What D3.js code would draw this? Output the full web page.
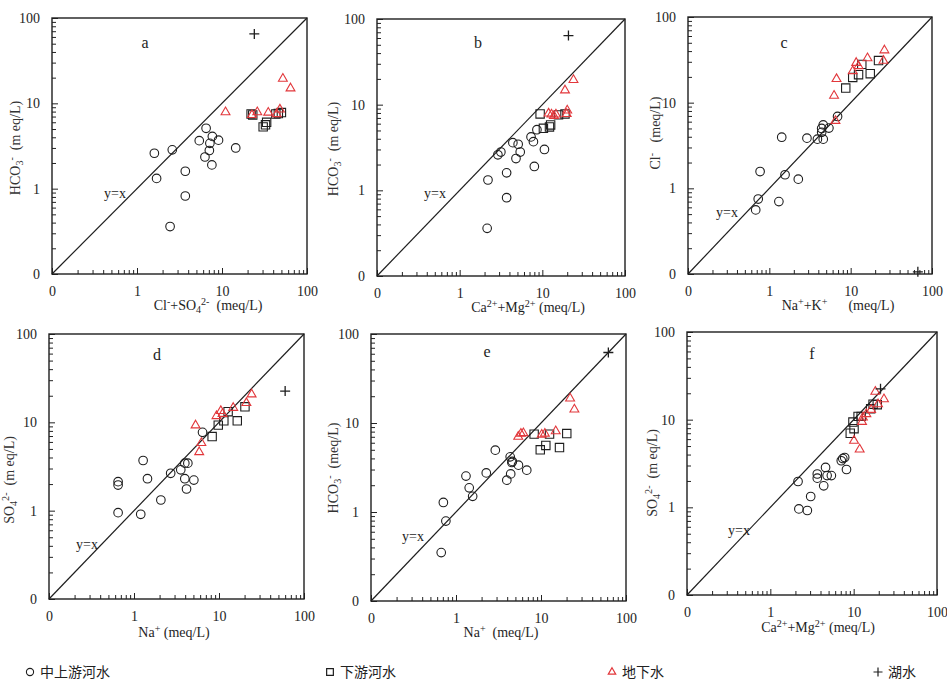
<!DOCTYPE html>
<meta charset="utf-8">
<style>
    body {
        margin: 0;
        background: #fff;
    }

    svg {
        font-family: "Liberation Serif", "Times New Roman", serif;
    }

    .axis path {
        display: none;
    }

    .axis line {
        stroke: #222;
        stroke-width: 1;
    }

    .legend text {
        font-family: "Noto Sans CJK SC", sans-serif;
        font-size: 14px;
        fill: #222;
    }
</style>
<body>
<script src="https://cdn.jsdelivr.net/npm/d3@7"></script>
<script>

    // log axes run 0.1 .. 100 but the 0.1 position is labelled "0"
    const tickValues = [0.1, 1, 10, 100];
    const tickLabels = ["0", "1", "10", "100"];

    const legendNames = ["中上游河水", "下游河水", "地下水", "湖水"];

    // a : HCO3- vs Cl- + SO4 2-
    const aCircle = [[1.6, 2.6], [1.7, 1.32], [2.6, 2.85], [2.45, 0.36], [3.7, 1.6], [3.7, 0.82], [5.4, 3.65], [6.5, 5.1],
        [7.7, 4.1], [7.2, 3.4], [9.1, 3.7], [7.1, 2.8], [6.3, 2.35], [7.6, 1.9], [14.5, 3.0]];
    const aSquare = [[22, 7.5], [23, 7.3], [30.5, 5.3], [32.5, 5.6], [33.5, 6.0], [43, 7.5], [46, 7.6], [50, 7.8]];
    const aTriangle = [[11, 8.1], [22.5, 7.5], [26, 8.1], [35, 8.0], [44, 7.7], [48, 8.7], [52, 20], [64, 15.4]];
    const aPlus = [[24, 65]];

    // b : HCO3- vs Ca2+ + Mg2+
    const bCircle = [[2.2, 1.32], [2.15, 0.36], [2.9, 2.6], [3.15, 2.8], [3.7, 1.6], [3.7, 0.82], [4.4, 3.6], [4.8, 2.35],
        [5.1, 3.45], [5.4, 2.8], [7.3, 4.2], [7.8, 3.7], [8.6, 5.1], [8.0, 1.9], [10.6, 3.0]];
    const bSquare = [[9.4, 7.8], [10.3, 5.3], [12.2, 5.5], [12.6, 5.8], [15.7, 7.6], [18.8, 7.8]];
    const bTriangle = [[11.9, 8.1], [12.9, 7.9], [13.8, 7.6], [14.6, 7.9], [19.7, 8.0], [20, 8.8], [18.8, 15.1], [23.8, 20]];
    const bPlus = [[20.7, 64]];

    // c : Cl- vs Na+ + K+
    const cCircle = [[0.68, 0.56], [0.73, 0.75], [0.77, 1.57], [1.31, 0.70], [1.42, 3.95], [1.56, 1.44], [2.27, 1.28], [2.9, 3.85],
        [3.9, 3.75], [4.4, 4.5], [4.4, 5.0], [4.6, 3.75], [4.6, 5.5], [5.4, 5.05], [6.9, 6.9]];
    const cSquare = [[8.7, 14.8], [10.6, 19.7], [12.5, 21.2], [13.7, 28], [17.4, 21.8], [22, 31]];
    const cTriangle = [[6.25, 12.4], [6.7, 19.4], [6.5, 6.3], [10.6, 24], [11.7, 30], [12.5, 27.5], [16.1, 34], [25.3, 31.7], [26, 42]];
    const cPlus = [[67, 0.106]];

    // d : SO4 2- vs Na+
    const dCircle = [[0.65, 2.13], [0.65, 1.95], [0.65, 0.95], [1.2, 0.91], [1.28, 3.7], [1.44, 2.3], [2.07, 1.32], [2.7, 2.65],
        [3.55, 2.9], [3.96, 3.45], [4.3, 3.45], [3.96, 2.3], [4.15, 1.76], [5.06, 2.22], [6.4, 7.7]];
    const dSquare = [[8.3, 6.9], [9.8, 9.3], [11.4, 10.4], [12.8, 13.2], [16.4, 10.4], [20.2, 15]];
    const dTriangle = [[5.3, 9.5], [5.85, 4.73], [6.2, 6.0], [9.35, 12.1], [10.5, 13.8], [11, 12.8], [14.7, 15], [21, 17], [24.2, 21.3]];
    const dPlus = [[60, 22.6]];

    // e : HCO3- vs Na+
    const eCircle = [[0.67, 0.35], [0.71, 1.28], [0.76, 0.79], [1.31, 2.53], [1.43, 1.87], [1.57, 1.5], [2.27, 2.75], [2.9, 4.95],
        [3.96, 2.28], [4.34, 4.17], [4.4, 2.68], [4.54, 3.6], [4.6, 3.7], [5.43, 3.36], [6.8, 2.95]];
    const eSquare = [[8.3, 7.5], [9.8, 5.0], [11.4, 5.6], [12.6, 7.5], [16.5, 5.3], [20.1, 7.6]];
    const eTriangle = [[5.4, 7.2], [5.8, 7.8], [6.2, 7.9], [10.2, 7.6], [11.1, 7.8], [14.9, 8.3], [22, 19.4], [24.7, 14.6]];
    const ePlus = [[62, 62]];

    // f : SO4 2- vs Ca2+ + Mg2+
    const fCircle = [[2.15, 1.97], [2.2, 0.96], [2.78, 0.92], [3.05, 1.33], [3.66, 2.4], [3.66, 2.15], [4.37, 1.76], [4.6, 2.85],
        [4.8, 2.3], [5.4, 2.3], [7.1, 3.4], [7.4, 3.6], [7.8, 3.7], [8.2, 2.7]];
    const fSquare = [[9.1, 7.0], [10.1, 7.9], [9.8, 9.4], [11.3, 10.9], [12.3, 10.9], [16, 13.3], [17.1, 15], [19.2, 14.8]];
    const fTriangle = [[10.1, 5.9], [11.8, 4.7], [12.6, 9.7], [12.9, 10.9], [14.2, 11.9], [16.2, 13.3], [18.2, 21.4], [19.6, 15.4], [23.1, 17.6]];
    const fPlus = [[21, 22.5]];

    // axis titles as [text, "", "sub" or "sup"] pieces
    const hco3 = [["HCO", ""], ["3", "sub"], ["-", "sup"]];
    const so4 = [["SO", ""], ["4", "sub"], ["2-", "sup"]];
    const caMg = [["Ca", ""], ["2+", "sup"], ["+Mg", ""], ["2+", "sup"], [" (meq/L)", ""]];

    // panel boxes: left, top, right, bottom
    const panels = [
        {id: "a", box: [52, 18, 307, 274], data: [aCircle, aSquare, aTriangle, aPlus],
            yTitle: hco3.concat([["  (m eq/L)", ""]]), yt: [20, 148],
            xTitle: [["Cl", ""], ["-", "sup"], ["+SO", ""], ["4", "sub"], ["2-", "sup"], ["  (meq/L)", ""]], xt: [208, 310],
            letter: [145, 42], yx: [104, 193]},
        {id: "b", box: [377, 19, 625, 276], data: [bCircle, bSquare, bTriangle, bPlus],
            yTitle: hco3.concat([["  (m eq/L)", ""]]), yt: [338, 149],
            xTitle: caMg, xt: [528, 312],
            letter: [478, 42], yx: [424, 193]},
        {id: "c", box: [688, 17, 932, 274], data: [cCircle, cSquare, cTriangle, cPlus],
            yTitle: [["Cl", ""], ["-", "sup"], ["   (meq/L)", ""]], yt: [660, 133],
            xTitle: [["Na", ""], ["+", "sup"], ["+K", ""], ["+", "sup"], ["      (meq/L)", ""]], xt: [838, 310],
            letter: [784, 42], yx: [716, 212]},
        {id: "d", box: [49, 334, 304, 599], data: [dCircle, dSquare, dTriangle, dPlus],
            yTitle: so4.concat([["  (m eq/L)", ""]]), yt: [14, 480],
            xTitle: [["Na", ""], ["+", "sup"], [" (meq/L)", ""]], xt: [174, 637],
            letter: [157, 354], yx: [76, 544]},
        {id: "e", box: [371, 334, 626, 601], data: [eCircle, eSquare, eTriangle, ePlus],
            yTitle: hco3.concat([["  (meq/L)", ""]]), yt: [338, 468],
            xTitle: [["Na", ""], ["+", "sup"], ["  (meq/L)", ""]], xt: [501, 637],
            letter: [487, 351], yx: [402, 536]},
        {id: "f", box: [687, 332, 937, 595], data: [fCircle, fSquare, fTriangle, fPlus],
            yTitle: so4.concat([["  (m eq/L)", ""]]), yt: [657, 473],
            xTitle: caMg, xt: [818, 632],
            letter: [812, 353], yx: [728, 530]}
    ];

    const red = "#e2373b";
    const ink = "#1e1e1e";

    const svg = d3.select("body")
        .append("svg")
        .attr("width", 947)
        .attr("height", 684);

    // writes sub/superscript pieces into a text element
    function richText(sel, pieces, size) {
        let shift = 0;
        pieces.forEach(p => {
            let target = p[1] === "sup" ? -5 : p[1] === "sub" ? 3 : 0;
            sel.append("tspan")
                .attr("dy", target - shift)
                .style("font-size", p[1] === "" ? size + "px" : (size * 0.72) + "px")
                .text(p[0]);
            shift = target;
        });
    }

    const symTri = d3.symbol(d3.symbolTriangle, 34)();
    const symSq = d3.symbol(d3.symbolSquare, 70)();
    const symPlus = "M-5,0H5M0,-5V5";

    function drawMarker(g, kind, x, y) {
        if (kind === 0) {
            g.append("circle").attr("cx", x).attr("cy", y).attr("r", 4.3)
                .attr("fill", "none").attr("stroke", ink).attr("stroke-width", 1.1);
        } else {
            g.append("path")
                .attr("transform", "translate(" + x + "," + (y + (kind === 2 ? 1 : 0)) + ")")
                .attr("d", kind === 1 ? symSq : kind === 2 ? symTri : symPlus)
                .attr("fill", "none")
                .attr("stroke", kind === 2 ? red : ink)
                .attr("stroke-width", kind === 3 ? 1.3 : 1.1);
        }
    }

    panels.forEach(p => {
        const [x0, y0, x1, y1] = p.box;
        const g = svg.append("g").attr("class", "panel-" + p.id);

        const x = d3.scaleLog().domain([0.1, 100]).range([x0, x1]);
        const y = d3.scaleLog().domain([0.1, 100]).range([y1, y0]);
        const minor = x.ticks().filter(t => tickValues.indexOf(t) < 0);

        // minor ticks, pointing inside
        g.append("g").attr("class", "axis")
            .attr("transform", "translate(0," + y1 + ")")
            .call(d3.axisBottom(x).tickValues(minor).tickSize(-4).tickFormat(""));
        g.append("g").attr("class", "axis")
            .attr("transform", "translate(" + x0 + ",0)")
            .call(d3.axisLeft(y).tickValues(minor).tickSize(-4).tickFormat(""));

        // major ticks with labels
        const fmt = d => tickLabels[tickValues.indexOf(d)];
        const xa = g.append("g").attr("class", "axis")
            .attr("transform", "translate(0," + y1 + ")")
            .call(d3.axisBottom(x).tickValues(tickValues).tickSize(-6).tickPadding(12).tickFormat(fmt));
        const ya = g.append("g").attr("class", "axis")
            .attr("transform", "translate(" + x0 + ",0)")
            .call(d3.axisLeft(y).tickValues(tickValues).tickSize(-6).tickPadding(12).tickFormat(fmt));
        [xa, ya].forEach(a => a.selectAll("text")
            .style("font-family", "Liberation Serif, serif")
            .style("font-size", "14px")
            .attr("fill", ink));

        // frame
        g.append("rect")
            .attr("x", x0).attr("y", y0)
            .attr("width", x1 - x0).attr("height", y1 - y0)
            .attr("fill", "none")
            .attr("stroke", ink)
            .attr("stroke-width", 1.4);

        // y = x line
        g.append("line")
            .attr("x1", x(0.1)).attr("y1", y(0.1))
            .attr("x2", x(100)).attr("y2", y(100))
            .attr("stroke", ink)
            .attr("stroke-width", 1.2);

        g.append("text")
            .attr("x", p.yx[0]).attr("y", p.yx[1])
            .attr("dy", ".35em")
            .style("font-size", "14px")
            .attr("fill", ink)
            .text("y=x");

        g.append("text")
            .attr("x", p.letter[0]).attr("y", p.letter[1])
            .attr("dy", ".35em")
            .attr("text-anchor", "middle")
            .style("font-size", "16px")
            .attr("fill", ink)
            .text(p.id);

        // points: circles, squares, triangles, plus
        p.data.forEach((series, kind) => {
            series.forEach(d => drawMarker(g, kind, x(d[0]), y(d[1])));
        });

        // axis titles
        const xt = g.append("text")
            .attr("x", p.xt[0]).attr("y", p.xt[1])
            .attr("dy", ".35em")
            .attr("text-anchor", "middle")
            .style("white-space", "pre")
            .attr("fill", ink);
        richText(xt, p.xTitle, 14);

        const yt = g.append("text")
            .attr("transform", "translate(" + p.yt[0] + "," + p.yt[1] + ") rotate(-90)")
            .attr("dy", ".35em")
            .attr("text-anchor", "middle")
            .style("white-space", "pre")
            .attr("fill", "#333");
        richText(yt, p.yTitle, 14);
    });

    // legend along the bottom
    const legendX = [30, 330, 612, 878];
    const legend = svg.append("g").attr("class", "legend");
    legendNames.forEach((name, i) => {
        const item = legend.append("g").attr("transform", "translate(" + legendX[i] + ",672)");
        if (i === 0) {
            item.append("circle").attr("r", 3.6).attr("fill", "none").attr("stroke", ink).attr("stroke-width", 1.1);
        } else {
            item.append("path")
                .attr("d", i === 1 ? d3.symbol(d3.symbolSquare, 45)() : i === 2 ? d3.symbol(d3.symbolTriangle, 24)() : "M-4.5,0H4.5M0,-4.5V4.5")
                .attr("fill", "none")
                .attr("stroke", i === 2 ? red : ink)
                .attr("stroke-width", 1.2);
        }
        item.append("text")
            .attr("x", 10)
            .attr("dy", ".35em")
            .text(name);
    });

</script>
</body>
</html>
